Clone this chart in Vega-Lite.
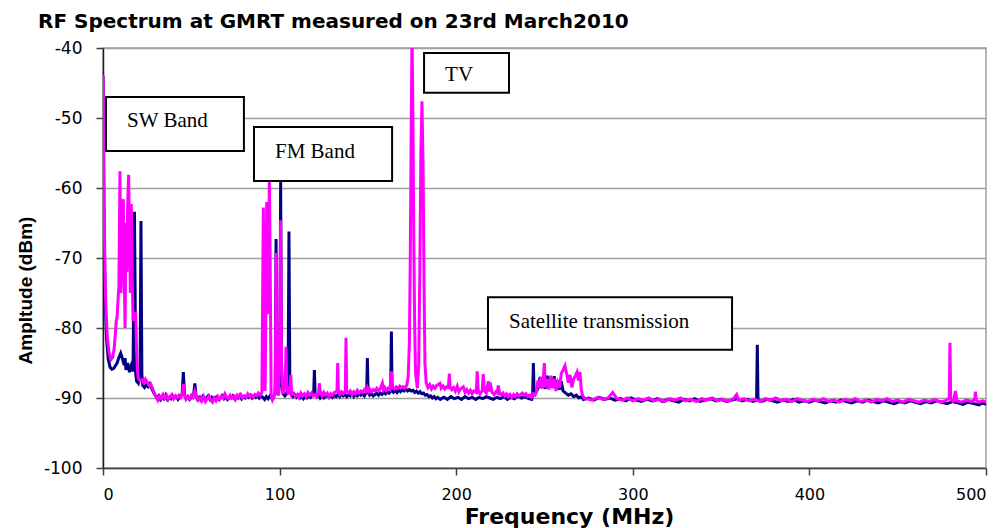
{
"$schema": "https://vega.github.io/schema/vega-lite/v6.json",
"width": 883, "height": 420,
"autosize": {"type": "none"},
"padding": {"left": 103, "top": 48, "right": 21, "bottom": 60},
"background": "white",
"title": {"text": "RF Spectrum at GMRT measured on 23rd March2010", "anchor": "start", "frame": "group", "dx": -65, "offset": 7, "font": "DejaVu Sans", "fontSize": 20, "fontWeight": "bold", "color": "black"},
"config": {"view": {"stroke": "#a0a0a0", "strokeWidth": 1.5}},
"datasets": {
"navy": [
{"f":0,"a":-44},{"f":0.5,"a":-62},{"f":1,"a":-72},{"f":1.5,"a":-78},{"f":2,"a":-81.5},{"f":3,"a":-84.5},{"f":4,"a":-85.6},{"f":5,"a":-85.9},{"f":6,"a":-85.8},{"f":7,"a":-85.4},{"f":8,"a":-85},{"f":9,"a":-84.2},{"f":10,"a":-83.6},{"f":11,"a":-84.4},{"f":12,"a":-85.3},{"f":12.5,"a":-84.3},{"f":13,"a":-86},{"f":14,"a":-85},{"f":15,"a":-86.3},{"f":16,"a":-85.4},{"f":17,"a":-86.2},{"f":17.5,"a":-72},{"f":17.8,"a":-63.4},{"f":18.1,"a":-72},{"f":18.5,"a":-86.5},{"f":19,"a":-87.6},{"f":20,"a":-87.9},{"f":21,"a":-86.5},{"f":21.5,"a":-64.7},{"f":22,"a":-86.5},{"f":22.5,"a":-88.2},{"f":23.5,"a":-88.5},{"f":24.5,"a":-88.1},{"f":25.5,"a":-88.4},{"f":26.5,"a":-88.0},{"f":27.5,"a":-88.6},{"f":28.5,"a":-89.1},{"f":29.5,"a":-89.6},{"f":30.5,"a":-90.0},{"f":31.5,"a":-89.7},{"f":32.5,"a":-90.2},{"f":33.5,"a":-89.8},{"f":34.5,"a":-90.1},{"f":35.5,"a":-89.6},{"f":36.5,"a":-90.2},{"f":37.5,"a":-89.9},{"f":38.5,"a":-90.1},{"f":39.5,"a":-89.7},{"f":40.5,"a":-90.0},{"f":41.5,"a":-89.8},{"f":42.5,"a":-90.2},{"f":43.5,"a":-89.9},{"f":44.8,"a":-89.5},{"f":45.5,"a":-86.3},{"f":46.2,"a":-89.6},{"f":47,"a":-90.1},{"f":48,"a":-89.8},{"f":49,"a":-90.2},{"f":50,"a":-89.9},{"f":51.3,"a":-89.6},{"f":52,"a":-87.9},{"f":52.7,"a":-89.7},{"f":53.5,"a":-90.2},{"f":54.5,"a":-89.9},{"f":55.5,"a":-90.3},{"f":56.5,"a":-89.8},{"f":57.5,"a":-90.2},{"f":58.5,"a":-90.0},{"f":59.5,"a":-89.7},{"f":60.5,"a":-90.2},{"f":61.5,"a":-89.9},{"f":62.5,"a":-90.3},{"f":63.5,"a":-90.0},{"f":64.5,"a":-89.8},{"f":65.5,"a":-90.2},{"f":66.5,"a":-90.0},{"f":67.5,"a":-89.7},{"f":68.5,"a":-90.1},{"f":69.5,"a":-89.8},{"f":70.5,"a":-90.2},{"f":71.5,"a":-89.9},{"f":72.5,"a":-90.0},{"f":73.5,"a":-89.7},{"f":74.5,"a":-90.1},{"f":75.5,"a":-89.8},{"f":76.5,"a":-90.0},{"f":77.5,"a":-89.6},{"f":78.5,"a":-90.1},{"f":79.5,"a":-89.8},{"f":80.5,"a":-90.0},{"f":81.5,"a":-89.7},{"f":82.5,"a":-89.9},{"f":83.5,"a":-89.6},{"f":84.5,"a":-90.0},{"f":85.5,"a":-89.7},{"f":86.5,"a":-89.9},{"f":87.5,"a":-89.6},{"f":88.5,"a":-90.0},{"f":89.5,"a":-89.7},{"f":90.5,"a":-89.9},{"f":91.5,"a":-90.2},{"f":92.5,"a":-89.8},{"f":93.5,"a":-90.1},{"f":94.5,"a":-89.7},{"f":95.5,"a":-90.0},{"f":96.5,"a":-89.8},{"f":97.5,"a":-89.2},{"f":98,"a":-67.3},{"f":98.5,"a":-89.0},{"f":99.3,"a":-89.6},{"f":100.1,"a":-87.5},{"f":100.6,"a":-59.1},{"f":101.1,"a":-87.5},{"f":102,"a":-89.4},{"f":103,"a":-89.7},{"f":104,"a":-89.4},{"f":104.8,"a":-88},{"f":105.3,"a":-66.2},{"f":105.8,"a":-88},{"f":106.5,"a":-89.5},{"f":107.5,"a":-89.8},{"f":108.5,"a":-89.5},{"f":109.5,"a":-89.9},{"f":110.5,"a":-89.6},{"f":111.5,"a":-90.0},{"f":112.5,"a":-89.7},{"f":113.5,"a":-90.1},{"f":114.5,"a":-89.8},{"f":115.5,"a":-90.0},{"f":116.5,"a":-89.7},{"f":117.5,"a":-89.9},{"f":118.5,"a":-89.6},{"f":119.3,"a":-89.4},{"f":119.7,"a":-86.0},{"f":120.1,"a":-89.4},{"f":121,"a":-89.8},{"f":122,"a":-89.5},{"f":123,"a":-90.0},{"f":124,"a":-89.7},{"f":125,"a":-90.0},{"f":126,"a":-89.8},{"f":127,"a":-89.5},{"f":128,"a":-89.9},{"f":129,"a":-89.6},{"f":130,"a":-89.9},{"f":131,"a":-89.6},{"f":132,"a":-89.8},{"f":133,"a":-89.5},{"f":134,"a":-89.8},{"f":135,"a":-89.4},{"f":136,"a":-89.7},{"f":137,"a":-89.5},{"f":138,"a":-89.8},{"f":139,"a":-89.5},{"f":140,"a":-89.7},{"f":141,"a":-89.4},{"f":142,"a":-89.8},{"f":143,"a":-89.5},{"f":144,"a":-89.7},{"f":145,"a":-89.4},{"f":146,"a":-89.6},{"f":147,"a":-89.3},{"f":148,"a":-89.7},{"f":149.3,"a":-89.2},{"f":149.7,"a":-84.3},{"f":150.1,"a":-89.2},{"f":151,"a":-89.6},{"f":152,"a":-89.4},{"f":153,"a":-89.7},{"f":154,"a":-89.5},{"f":155,"a":-89.3},{"f":156,"a":-89.6},{"f":157,"a":-89.3},{"f":158,"a":-89.5},{"f":159,"a":-89.2},{"f":160,"a":-89.4},{"f":161,"a":-89.1},{"f":162,"a":-89.3},{"f":162.9,"a":-89.0},{"f":163.3,"a":-80.5},{"f":163.7,"a":-89.0},{"f":164.5,"a":-89.2},{"f":165.5,"a":-88.9},{"f":166.5,"a":-89.2},{"f":167.5,"a":-88.8},{"f":168.5,"a":-89.1},{"f":169.5,"a":-88.8},{"f":170.5,"a":-89.0},{"f":171.5,"a":-88.7},{"f":172.5,"a":-89.0},{"f":173.5,"a":-88.8},{"f":174.5,"a":-89.0},{"f":175.5,"a":-88.9},{"f":176.5,"a":-89.2},{"f":177.5,"a":-89.0},{"f":178.5,"a":-89.3},{"f":179.5,"a":-89.1},{"f":180.5,"a":-89.4},{"f":181.5,"a":-89.3},{"f":182.5,"a":-89.6},{"f":183.5,"a":-89.5},{"f":184.5,"a":-89.8},{"f":185.5,"a":-89.7},{"f":186.5,"a":-90.0},{"f":187.5,"a":-89.8},{"f":188.5,"a":-90.1},{"f":189.5,"a":-89.9},{"f":191,"a":-90.2},{"f":193,"a":-89.9},{"f":195,"a":-90.2},{"f":197,"a":-89.8},{"f":199,"a":-90.1},{"f":201,"a":-89.9},{"f":203,"a":-90.2},{"f":205,"a":-89.8},{"f":207,"a":-90.1},{"f":209,"a":-89.9},{"f":211,"a":-90.2},{"f":213,"a":-89.9},{"f":215,"a":-90.1},{"f":217,"a":-89.8},{"f":219,"a":-90.0},{"f":221,"a":-90.2},{"f":223,"a":-89.9},{"f":225,"a":-90.1},{"f":227,"a":-89.8},{"f":229,"a":-90.2},{"f":231,"a":-89.9},{"f":233,"a":-90.1},{"f":235,"a":-89.7},{"f":237,"a":-90.0},{"f":239,"a":-89.8},{"f":241,"a":-90.1},{"f":242.8,"a":-90.2},{"f":243.3,"a":-89.4},{"f":243.7,"a":-85.0},{"f":244.1,"a":-89.0},{"f":245,"a":-89.3},{"f":246.5,"a":-88.5},{"f":247.5,"a":-87.0},{"f":248.5,"a":-88.6},{"f":249.5,"a":-87.3},{"f":250.5,"a":-88.7},{"f":251.5,"a":-86.8},{"f":252.5,"a":-88.5},{"f":253.5,"a":-87.2},{"f":254.5,"a":-88.4},{"f":255.5,"a":-86.9},{"f":256.5,"a":-88.6},{"f":257.5,"a":-87.5},{"f":258.5,"a":-88.8},{"f":259.5,"a":-87.6},{"f":260.5,"a":-89.0},{"f":262,"a":-89.3},{"f":263.5,"a":-89.6},{"f":265,"a":-89.4},{"f":266.5,"a":-89.8},{"f":268,"a":-89.6},{"f":269.5,"a":-90.0},{"f":271,"a":-89.8},{"f":272,"a":-90.2},{"f":275,"a":-90.0},{"f":278,"a":-90.3},{"f":281,"a":-89.9},{"f":284,"a":-90.2},{"f":287,"a":-90.0},{"f":290,"a":-90.3},{"f":293,"a":-90.1},{"f":296,"a":-90.4},{"f":299,"a":-90.0},{"f":302,"a":-90.3},{"f":305,"a":-90.5},{"f":308,"a":-90.2},{"f":311,"a":-90.4},{"f":314,"a":-90.1},{"f":317,"a":-90.5},{"f":320,"a":-90.2},{"f":323,"a":-90.4},{"f":326,"a":-90.6},{"f":329,"a":-90.2},{"f":332,"a":-90.4},{"f":335,"a":-90.1},{"f":338,"a":-90.5},{"f":341,"a":-90.3},{"f":344,"a":-90.1},{"f":347,"a":-90.4},{"f":350,"a":-90.2},{"f":353,"a":-90.5},{"f":356,"a":-90.3},{"f":359,"a":-90.1},{"f":362,"a":-90.4},{"f":365,"a":-90.2},{"f":368,"a":-90.5},{"f":370.1,"a":-90.3},{"f":370.5,"a":-82.4},{"f":370.9,"a":-90.3},{"f":373,"a":-90.5},{"f":376,"a":-90.2},{"f":379,"a":-90.4},{"f":382,"a":-90.6},{"f":385,"a":-90.3},{"f":388,"a":-90.5},{"f":391,"a":-90.2},{"f":394,"a":-90.6},{"f":397,"a":-90.4},{"f":400,"a":-90.6},{"f":403,"a":-90.3},{"f":406,"a":-90.5},{"f":409,"a":-90.7},{"f":412,"a":-90.4},{"f":415,"a":-90.6},{"f":418,"a":-90.3},{"f":421,"a":-90.5},{"f":424,"a":-90.7},{"f":427,"a":-90.4},{"f":430,"a":-90.6},{"f":433,"a":-90.3},{"f":436,"a":-90.5},{"f":439,"a":-90.7},{"f":442,"a":-90.4},{"f":445,"a":-90.6},{"f":448,"a":-90.8},{"f":451,"a":-90.5},{"f":454,"a":-90.7},{"f":457,"a":-90.4},{"f":460,"a":-90.6},{"f":463,"a":-90.8},{"f":466,"a":-90.5},{"f":469,"a":-90.7},{"f":472,"a":-90.4},{"f":475,"a":-90.6},{"f":478,"a":-90.8},{"f":481,"a":-90.5},{"f":484,"a":-90.7},{"f":487,"a":-90.9},{"f":490,"a":-90.6},{"f":493,"a":-90.8},{"f":496,"a":-91.0},{"f":498,"a":-90.7},{"f":500,"a":-90.9}
],
"mag": [
{"f":0,"a":-43.9},{"f":0.4,"a":-55},{"f":0.8,"a":-66},{"f":1.2,"a":-73},{"f":1.7,"a":-77.5},{"f":2.5,"a":-81.5},{"f":3.5,"a":-83.6},{"f":4.5,"a":-84.5},{"f":5.5,"a":-84.2},{"f":6.3,"a":-83},{"f":7,"a":-80.8},{"f":7.5,"a":-79},{"f":8,"a":-78.4},{"f":8.5,"a":-76},{"f":9,"a":-74},{"f":9.3,"a":-66},{"f":9.6,"a":-57.6},{"f":9.9,"a":-66},{"f":10.2,"a":-75},{"f":10.6,"a":-70},{"f":11,"a":-64},{"f":11.5,"a":-61.6},{"f":12,"a":-72},{"f":12.5,"a":-80},{"f":13,"a":-65},{"f":13.5,"a":-72},{"f":14,"a":-62},{"f":14.5,"a":-58.1},{"f":15,"a":-66},{"f":15.5,"a":-75},{"f":16,"a":-62.3},{"f":16.5,"a":-72},{"f":17,"a":-79},{"f":17.5,"a":-78},{"f":18.5,"a":-77.9},{"f":19,"a":-83},{"f":19.5,"a":-86},{"f":20,"a":-87.2},{"f":21,"a":-87.5},{"f":22,"a":-87.4},{"f":23,"a":-87.8},{"f":24,"a":-87.3},{"f":25,"a":-87.7},{"f":26,"a":-88.2},{"f":27,"a":-88.0},{"f":28,"a":-88.6},{"f":29,"a":-89.3},{"f":30,"a":-89.8},{"f":31,"a":-90.3},{"f":32,"a":-89.7},{"f":33,"a":-90.1},{"f":34,"a":-89.5},{"f":35,"a":-90.0},{"f":36,"a":-89.6},{"f":37,"a":-90.2},{"f":38,"a":-89.8},{"f":39,"a":-89.5},{"f":40,"a":-90.1},{"f":41,"a":-89.7},{"f":42,"a":-90.0},{"f":43,"a":-89.6},{"f":44,"a":-89.9},{"f":45,"a":-89.4},{"f":45.5,"a":-88.0},{"f":46,"a":-89.5},{"f":47,"a":-90.2},{"f":48,"a":-89.8},{"f":49,"a":-90.1},{"f":50,"a":-89.6},{"f":51,"a":-89.9},{"f":52,"a":-89.0},{"f":53,"a":-89.8},{"f":54,"a":-90.3},{"f":55,"a":-89.9},{"f":56,"a":-90.4},{"f":57,"a":-89.8},{"f":58,"a":-90.5},{"f":59,"a":-90.1},{"f":60,"a":-89.7},{"f":61,"a":-90.3},{"f":62,"a":-90.6},{"f":63,"a":-90.0},{"f":64,"a":-90.4},{"f":65,"a":-89.8},{"f":66,"a":-90.2},{"f":67,"a":-89.7},{"f":68,"a":-90.0},{"f":69,"a":-89.4},{"f":70,"a":-89.9},{"f":71,"a":-90.1},{"f":72,"a":-89.6},{"f":73,"a":-90.0},{"f":74,"a":-89.7},{"f":75,"a":-90.2},{"f":76,"a":-89.6},{"f":77,"a":-89.9},{"f":78,"a":-89.5},{"f":79,"a":-90.0},{"f":80,"a":-89.7},{"f":81,"a":-89.9},{"f":82,"a":-89.4},{"f":83,"a":-89.8},{"f":84,"a":-89.6},{"f":85,"a":-89.9},{"f":86,"a":-89.5},{"f":87,"a":-89.7},{"f":88,"a":-89.3},{"f":89,"a":-89.6},{"f":90,"a":-89.2},{"f":90.4,"a":-75},{"f":90.8,"a":-62.8},{"f":91.2,"a":-75},{"f":91.8,"a":-89},{"f":92.3,"a":-75},{"f":92.7,"a":-62.0},{"f":93.2,"a":-75},{"f":93.7,"a":-78},{"f":94.2,"a":-58.5},{"f":94.7,"a":-72},{"f":95.2,"a":-89.5},{"f":96,"a":-90.3},{"f":97,"a":-89.8},{"f":97.6,"a":-88},{"f":98,"a":-69.3},{"f":98.5,"a":-89},{"f":99.5,"a":-89.6},{"f":100.1,"a":-80},{"f":100.6,"a":-64.6},{"f":101.1,"a":-85},{"f":102,"a":-89.4},{"f":103.2,"a":-88},{"f":103.6,"a":-82.7},{"f":104,"a":-88},{"f":104.8,"a":-89.5},{"f":105.3,"a":-88.5},{"f":105.9,"a":-89},{"f":106.3,"a":-86.7},{"f":106.8,"a":-89.5},{"f":108,"a":-89.3},{"f":109,"a":-89.8},{"f":110,"a":-89.5},{"f":111,"a":-89.9},{"f":112,"a":-89.3},{"f":113,"a":-89.7},{"f":114,"a":-89.4},{"f":115,"a":-89.8},{"f":116,"a":-89.2},{"f":117,"a":-89.6},{"f":118,"a":-89.3},{"f":119,"a":-89.7},{"f":120,"a":-89.5},{"f":121,"a":-89.8},{"f":122,"a":-89.4},{"f":122.5,"a":-87.9},{"f":123.2,"a":-89.4},{"f":124,"a":-89.7},{"f":125,"a":-89.2},{"f":126,"a":-89.6},{"f":127,"a":-89.3},{"f":128,"a":-89.8},{"f":129,"a":-89.4},{"f":130,"a":-89.6},{"f":131,"a":-89.2},{"f":132.5,"a":-89},{"f":132.9,"a":-85.0},{"f":133.3,"a":-89},{"f":134,"a":-89.5},{"f":135,"a":-89.1},{"f":136,"a":-89.4},{"f":137.2,"a":-89},{"f":137.6,"a":-81.4},{"f":138,"a":-89},{"f":139,"a":-89.3},{"f":140,"a":-89.0},{"f":141,"a":-89.5},{"f":142,"a":-89.1},{"f":143,"a":-89.4},{"f":144,"a":-88.9},{"f":145,"a":-89.3},{"f":146,"a":-89.0},{"f":147,"a":-89.2},{"f":148,"a":-88.8},{"f":149,"a":-89.1},{"f":149.7,"a":-88.5},{"f":150.5,"a":-89.0},{"f":151,"a":-88.7},{"f":152,"a":-89.1},{"f":153,"a":-88.8},{"f":154,"a":-89.0},{"f":155,"a":-88.6},{"f":156,"a":-88.9},{"f":157,"a":-88.7},{"f":158.2,"a":-87.9},{"f":158.8,"a":-88.8},{"f":159.5,"a":-88.5},{"f":160.5,"a":-88.9},{"f":161.5,"a":-88.6},{"f":162.5,"a":-88.8},{"f":163.3,"a":-86.2},{"f":164,"a":-88.5},{"f":165,"a":-88.7},{"f":166,"a":-88.4},{"f":167,"a":-88.6},{"f":168,"a":-88.3},{"f":169,"a":-88.5},{"f":170,"a":-88.4},{"f":171,"a":-88.6},{"f":172,"a":-88.2},{"f":172.8,"a":-87},{"f":173.5,"a":-82},{"f":174,"a":-70},{"f":174.5,"a":-52},{"f":175,"a":-38},{"f":175.5,"a":-50},{"f":176,"a":-68},{"f":176.5,"a":-80},{"f":177,"a":-86.5},{"f":178,"a":-88.6},{"f":178.8,"a":-85},{"f":179.4,"a":-72},{"f":180,"a":-55},{"f":180.6,"a":-47.6},{"f":181.2,"a":-56},{"f":181.8,"a":-74},{"f":182.3,"a":-85},{"f":183,"a":-87.8},{"f":184,"a":-88.5},{"f":185,"a":-88.1},{"f":186,"a":-88.7},{"f":187,"a":-88.3},{"f":188,"a":-88.6},{"f":189,"a":-88.2},{"f":190.8,"a":-87.9},{"f":191.5,"a":-88.6},{"f":192.5,"a":-88.3},{"f":193.5,"a":-88.7},{"f":194.5,"a":-88.4},{"f":195.6,"a":-88.5},{"f":196.1,"a":-86.5},{"f":196.6,"a":-88.4},{"f":197.5,"a":-88.8},{"f":198.5,"a":-88.5},{"f":199.5,"a":-89},{"f":200.6,"a":-88.3},{"f":201.5,"a":-89.1},{"f":202.5,"a":-88.7},{"f":204,"a":-88.4},{"f":205,"a":-89.2},{"f":206,"a":-88.8},{"f":207,"a":-89.3},{"f":208,"a":-88.9},{"f":209,"a":-89.4},{"f":210,"a":-89.0},{"f":211.4,"a":-89.2},{"f":211.9,"a":-86.2},{"f":212.5,"a":-89.0},{"f":213.5,"a":-89.4},{"f":214.7,"a":-89.0},{"f":215.3,"a":-86.6},{"f":216,"a":-89.0},{"f":217,"a":-89.3},{"f":218.2,"a":-87.6},{"f":218.7,"a":-89.1},{"f":219.3,"a":-87.8},{"f":220.3,"a":-89.2},{"f":221.5,"a":-89.5},{"f":222.5,"a":-89.1},{"f":223.3,"a":-89.3},{"f":223.8,"a":-88.2},{"f":224.5,"a":-89.2},{"f":225.5,"a":-89.6},{"f":226.5,"a":-89.3},{"f":227.5,"a":-89.7},{"f":228.5,"a":-89.4},{"f":229.5,"a":-89.8},{"f":230.5,"a":-89.5},{"f":231.5,"a":-89.9},{"f":232.5,"a":-89.5},{"f":233.5,"a":-89.8},{"f":234.5,"a":-89.4},{"f":235.5,"a":-89.7},{"f":236.5,"a":-89.5},{"f":237.5,"a":-89.3},{"f":238.5,"a":-89.6},{"f":239.5,"a":-89.4},{"f":240.5,"a":-89.8},{"f":241.5,"a":-89.6},{"f":242.5,"a":-89.9},{"f":243.5,"a":-89.4},{"f":244.5,"a":-89.6},{"f":245.5,"a":-89},{"f":246.3,"a":-87.5},{"f":247,"a":-88.5},{"f":248,"a":-87},{"f":249,"a":-88.6},{"f":249.9,"a":-85.0},{"f":250.5,"a":-88.5},{"f":251.5,"a":-87.3},{"f":252.5,"a":-88.8},{"f":253.5,"a":-86.8},{"f":254.5,"a":-88.6},{"f":255.5,"a":-87.2},{"f":256.5,"a":-89},{"f":257.5,"a":-87.8},{"f":258.5,"a":-88.5},{"f":259.5,"a":-86.5},{"f":260.5,"a":-86.0},{"f":261.6,"a":-85.4},{"f":262.5,"a":-86.5},{"f":263.5,"a":-87.8},{"f":264.5,"a":-86.7},{"f":265.5,"a":-88.5},{"f":266.5,"a":-87.3},{"f":267.5,"a":-86.8},{"f":268.4,"a":-86.3},{"f":269.2,"a":-87.5},{"f":270.1,"a":-86.3},{"f":270.8,"a":-88.8},{"f":271.5,"a":-89.6},{"f":272.5,"a":-90.0},{"f":274,"a":-90.1},{"f":277,"a":-90.3},{"f":280,"a":-89.9},{"f":283,"a":-90.2},{"f":286,"a":-90.0},{"f":288.6,"a":-89.2},{"f":291,"a":-90.1},{"f":294,"a":-90.3},{"f":297,"a":-90.0},{"f":300,"a":-90.4},{"f":303,"a":-90.1},{"f":306,"a":-90.3},{"f":309,"a":-90.0},{"f":312,"a":-90.4},{"f":315,"a":-90.2},{"f":318,"a":-90.5},{"f":321,"a":-90.1},{"f":324,"a":-90.3},{"f":327,"a":-90.0},{"f":330,"a":-90.4},{"f":333,"a":-90.2},{"f":336,"a":-90.5},{"f":339,"a":-90.1},{"f":342,"a":-90.3},{"f":345,"a":-90.0},{"f":348,"a":-90.4},{"f":351,"a":-90.2},{"f":354,"a":-90.5},{"f":357,"a":-90.1},{"f":358.8,"a":-89.5},{"f":360,"a":-90.3},{"f":363,"a":-90.1},{"f":366,"a":-90.4},{"f":369,"a":-90.2},{"f":372,"a":-90.5},{"f":375,"a":-90.1},{"f":378,"a":-90.3},{"f":381,"a":-90.0},{"f":384,"a":-90.4},{"f":387,"a":-90.2},{"f":390,"a":-90.5},{"f":393,"a":-90.1},{"f":396,"a":-90.3},{"f":399,"a":-90.5},{"f":402,"a":-90.2},{"f":405,"a":-90.4},{"f":408,"a":-90.1},{"f":411,"a":-90.5},{"f":414,"a":-90.3},{"f":417,"a":-90.6},{"f":420,"a":-90.2},{"f":423,"a":-90.4},{"f":426,"a":-90.1},{"f":429,"a":-90.5},{"f":432,"a":-90.3},{"f":435,"a":-90.6},{"f":438,"a":-90.2},{"f":441,"a":-90.4},{"f":444,"a":-90.1},{"f":447,"a":-90.5},{"f":450,"a":-90.3},{"f":453,"a":-90.6},{"f":456,"a":-90.2},{"f":459,"a":-90.4},{"f":462,"a":-90.6},{"f":465,"a":-90.3},{"f":468,"a":-90.5},{"f":471,"a":-90.2},{"f":474,"a":-90.6},{"f":477,"a":-90.4},{"f":479.2,"a":-90},{"f":479.6,"a":-82.1},{"f":480,"a":-90.2},{"f":481.5,"a":-90.5},{"f":482.7,"a":-89.0},{"f":483.5,"a":-90.4},{"f":486,"a":-90.6},{"f":489,"a":-90.3},{"f":492,"a":-90.5},{"f":493.6,"a":-90.2},{"f":494,"a":-89.1},{"f":494.4,"a":-90.3},{"f":496,"a":-90.6},{"f":498,"a":-90.4},{"f":500,"a":-90.6}
],
"boxes": [
{"x1":1.7,"x2":79.8,"y1":-47.0,"y2":-54.7},
{"x1":85.5,"x2":163.7,"y1":-51.3,"y2":-59.0},
{"x1":181.8,"x2":229.9,"y1":-40.7,"y2":-46.4},
{"x1":218.0,"x2":356.2,"y1":-75.6,"y2":-83.1}
],
"labels": [
{"x":13.6,"y":-50.4,"t":"SW Band"},
{"x":97.4,"y":-54.9,"t":"FM Band"},
{"x":193.7,"y":-43.9,"t":"TV"},
{"x":229.9,"y":-79.1,"t":"Satellite transmission"}
]
},
"layer": [
{"data": {"name": "navy"},
 "mark": {"type": "line", "color": "#000080", "strokeWidth": 3, "clip": true},
 "encoding": {
  "x": {"field": "f", "type": "quantitative", "scale": {"domain": [0, 500], "nice": false},
   "axis": {"values": [0,100,200,300,400,500], "grid": false, "title": "Frequency (MHz)", "titleFont": "DejaVu Sans", "titleFontSize": 22, "titleFontWeight": "bold", "titleColor": "black", "titlePadding": 4, "titleX": 466, "labelFont": "DejaVu Sans", "labelFontSize": 16, "labelColor": "black", "labelPadding": 11, "tickSize": 7, "tickWidth": 1.5, "tickColor": "#404040", "domainColor": "#404040", "domainWidth": 1.5}},
  "y": {"field": "a", "type": "quantitative", "scale": {"domain": [-100, -40], "nice": false},
   "axis": {"values": [-100,-90,-80,-70,-60,-50,-40], "labelExpr": "'-' + abs(datum.value)", "grid": true, "gridColor": "#a0a0a0", "gridWidth": 1.5, "title": "Ampltude (dBm)", "titleFont": "Liberation Sans", "titleFontSize": 19, "titleFontWeight": "bold", "titleColor": "black", "titleX": -68, "titleY": 242, "labelFont": "DejaVu Sans", "labelFontSize": 17, "labelColor": "black", "labelPadding": 14, "tickSize": 7, "tickWidth": 1.5, "tickColor": "#404040", "domainColor": "#202020", "domainWidth": 1.5}}
 }},
{"data": {"name": "mag"},
 "mark": {"type": "line", "color": "#ff00ff", "strokeWidth": 3, "clip": true},
 "encoding": {
  "x": {"field": "f", "type": "quantitative"},
  "y": {"field": "a", "type": "quantitative"}
 }},
{"data": {"name": "boxes"},
 "mark": {"type": "rect", "fill": "white", "stroke": "black", "strokeWidth": 2},
 "encoding": {
  "x": {"field": "x1", "type": "quantitative"}, "x2": {"field": "x2"},
  "y": {"field": "y1", "type": "quantitative"}, "y2": {"field": "y2"}
 }},
{"data": {"name": "labels"},
 "mark": {"type": "text", "font": "Liberation Serif", "fontSize": 21, "align": "left", "baseline": "middle", "color": "black"},
 "encoding": {
  "x": {"field": "x", "type": "quantitative"},
  "y": {"field": "y", "type": "quantitative"},
  "text": {"field": "t"}
 }}
]
}
